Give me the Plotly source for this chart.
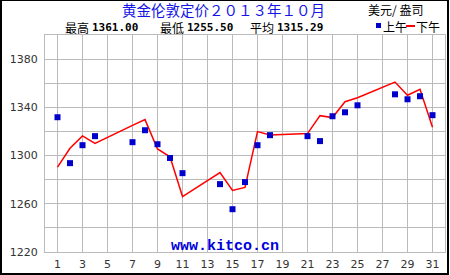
import plotly.graph_objects as go

days = [1, 2, 3, 4, 7, 8, 9, 10, 11, 14, 15, 16, 17, 18, 21, 22, 23, 24, 25, 28, 29, 30, 31]
am_fix = [1331.8, 1293.7, 1308.6, 1316.1, 1311.1, 1321.0, 1309.4, 1298.0, 1285.4, 1276.3, 1255.5, 1278.0,
          1308.6, 1316.9, 1316.1, 1312.0, 1332.6, 1335.9, 1341.7, 1350.8, 1346.7, 1349.2, 1333.5]
pm_fix = [1290.4, 1306.0, 1316.3, 1310.0, 1325.0, 1329.8, 1305.5, 1299.0, 1266.0, 1285.9, 1271.0, 1273.5,
          1319.9, 1317.1, 1318.2, 1333.1, 1331.5, 1344.7, 1348.0, 1361.0, 1350.0, 1355.0, 1323.5]
x_ticks = list(range(1, 32, 2))
stat_labels = ["最高", "最低", "平均"]
stat_values = ["1361.00", "1255.50", "1315.29"]

W, H = 450, 275
L, R, T, B = 45, 5, 35, 23
pw, ph = W - L - R, H - T - B

def px(x):
    return (x - L) / pw

def py(y):
    return (H - B - y) / ph

fig = go.Figure()
fig.add_trace(go.Scatter(x=days, y=pm_fix, mode="lines", line=dict(color="#FF0000", width=1.5),
                         showlegend=False, hoverinfo="skip"))
fig.add_trace(go.Scatter(x=days, y=am_fix, mode="markers",
                         marker=dict(symbol="square", size=6, color="#0000CC", line=dict(width=0)),
                         showlegend=False, hoverinfo="skip"))

font_tick = dict(family="DejaVu Sans", size=11, color="#333333")
fig.update_xaxes(range=[0, 32], tickvals=x_ticks, showgrid=True, gridcolor="#BBBBBB", gridwidth=1,
                 showline=True, linecolor="#BBBBBB", linewidth=1, mirror=True, zeroline=False,
                 ticks="", tickfont=font_tick, ticklabelstandoff=2)
fig.update_yaxes(range=[1220, 1400], tick0=1220, dtick=40, showgrid=True, gridcolor="#BBBBBB", gridwidth=1,
                 minor=dict(tick0=1220, dtick=20, showgrid=True, gridcolor="#BBBBBB", gridwidth=1),
                 showline=True, linecolor="#BBBBBB", linewidth=1, mirror=True, zeroline=False,
                 ticks="", tickfont=font_tick, ticklabelstandoff=4)

cjk = "Noto Sans CJK SC"
anns = [
    dict(x=px(223), y=py(9), text="黄金伦敦定价２０１３年１０月", xanchor="center", yanchor="middle",
         font=dict(family=cjk, size=14.5, color="#1414E6")),
    dict(x=px(367), y=py(9.5), text="美元/ 盎司", xanchor="left", yanchor="middle",
         font=dict(family=cjk, size=12, color="#000000")),
    dict(x=px(382), y=py(27), text="上午", xanchor="left", yanchor="middle",
         font=dict(family=cjk, size=12, color="#000000")),
    dict(x=px(415), y=py(27), text="下午", xanchor="left", yanchor="middle",
         font=dict(family=cjk, size=12, color="#000000")),
    dict(x=px(225), y=py(246), text="<b>www.kitco.cn</b>", xanchor="center", yanchor="middle",
         font=dict(family="Liberation Mono", size=15, color="#0000DD")),
]
stat_x = [64, 159, 249]
for sx, lab, val in zip(stat_x, stat_labels, stat_values):
    anns.append(dict(x=px(sx), y=py(27.5), text=lab, xanchor="left", yanchor="middle",
                     font=dict(family=cjk, size=12, color="#000000")))
    anns.append(dict(x=px(sx + 27), y=py(27.5), text="<b>" + val + "</b>", xanchor="left", yanchor="middle",
                     font=dict(family="DejaVu Sans Mono", size=11, color="#000000")))
for a in anns:
    a.update(xref="paper", yref="paper", showarrow=False, borderpad=0)
fig.update_layout(annotations=anns)

# legend glyphs
fig.add_shape(type="rect", xref="paper", yref="paper", x0=px(376), x1=px(381), y0=py(28), y1=py(23),
              line=dict(width=0), fillcolor="#0000CC")
fig.add_shape(type="line", xref="paper", yref="paper", x0=px(406), x1=px(415), y0=py(26), y1=py(26),
              line=dict(color="#FF0000", width=2))
fig.add_shape(type="rect", xref="paper", yref="paper", x0=px(1), x1=px(448), y0=py(274), y1=py(0),
              line=dict(color="#000000", width=2), fillcolor="rgba(0,0,0,0)", layer="above")

fig.update_layout(width=W, height=H, margin=dict(l=L, r=R, t=T, b=B),
                  paper_bgcolor="white", plot_bgcolor="white")
fig.write_html("out.html", config={"displayModeBar": False})
